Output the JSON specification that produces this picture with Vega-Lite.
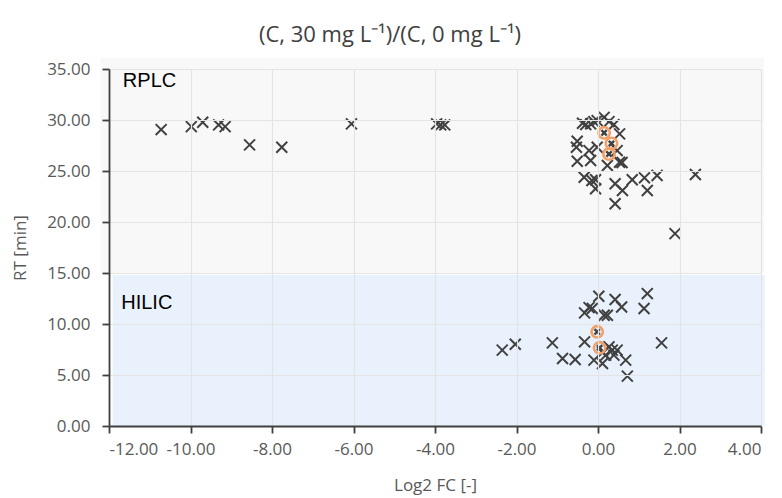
{
  "$schema": "https://vega.github.io/schema/vega-lite/v6.json",
  "width": 652,
  "height": 357,
  "autosize": {"type": "none"},
  "padding": {"left": 109, "top": 69, "right": 21, "bottom": 72},
  "background": "white",
  "config": {"view": {"stroke": null}},
  "title": {
    "text": "(C, 30 mg L⁻¹)/(C, 0 mg L⁻¹)",
    "font": "Open Sans",
    "fontSize": 22,
    "fontWeight": "normal",
    "color": "#404040",
    "anchor": "middle",
    "dx": -45,
    "offset": 11
  },
  "datasets": {
    "bands": [
      {"region": "RPLC", "x1": -12.21, "x2": 4.07, "y1": 15.0, "y2": 36.1},
      {"region": "HILIC", "x1": -11.91, "x2": 4.09, "y1": 0, "y2": 14.8}
    ],
    "labels": [
      {"label": "RPLC", "x": -11.66, "y": 33.8},
      {"label": "HILIC", "x": -11.7, "y": 12.1}
    ],
    "points": [
      {"fc": -10.72, "rt": 29.06, "hl": false},
      {"fc": -9.98, "rt": 29.35, "hl": false},
      {"fc": -9.70, "rt": 29.78, "hl": false},
      {"fc": -9.31, "rt": 29.52, "hl": false},
      {"fc": -9.15, "rt": 29.35, "hl": false},
      {"fc": -8.55, "rt": 27.56, "hl": false},
      {"fc": -7.76, "rt": 27.33, "hl": false},
      {"fc": -6.05, "rt": 29.62, "hl": false},
      {"fc": -3.96, "rt": 29.62, "hl": false},
      {"fc": -3.86, "rt": 29.52, "hl": false},
      {"fc": -3.76, "rt": 29.52, "hl": false},
      {"fc": -0.38, "rt": 29.68, "hl": false},
      {"fc": -0.30, "rt": 29.55, "hl": false},
      {"fc": -0.18, "rt": 29.62, "hl": false},
      {"fc": -0.10, "rt": 29.84, "hl": false},
      {"fc": -0.02, "rt": 29.94, "hl": false},
      {"fc": 0.15, "rt": 30.26, "hl": false},
      {"fc": 0.27, "rt": 29.84, "hl": false},
      {"fc": 0.39, "rt": 29.55, "hl": false},
      {"fc": 0.53, "rt": 28.64, "hl": false},
      {"fc": -0.51, "rt": 27.92, "hl": false},
      {"fc": -0.53, "rt": 27.33, "hl": false},
      {"fc": -0.22, "rt": 27.0, "hl": false},
      {"fc": -0.02, "rt": 27.33, "hl": false},
      {"fc": 0.47, "rt": 27.0, "hl": false},
      {"fc": -0.51, "rt": 25.96, "hl": false},
      {"fc": -0.18, "rt": 26.03, "hl": false},
      {"fc": 0.23, "rt": 25.54, "hl": false},
      {"fc": 0.53, "rt": 25.86, "hl": false},
      {"fc": 0.59, "rt": 25.83, "hl": false},
      {"fc": -0.34, "rt": 24.39, "hl": false},
      {"fc": -0.06, "rt": 24.14, "hl": false},
      {"fc": -0.15, "rt": 24.07, "hl": false},
      {"fc": -0.06, "rt": 23.26, "hl": false},
      {"fc": 0.42, "rt": 23.75, "hl": false},
      {"fc": 0.60, "rt": 23.09, "hl": false},
      {"fc": 0.84, "rt": 24.14, "hl": false},
      {"fc": 1.14, "rt": 24.33, "hl": false},
      {"fc": 1.45, "rt": 24.56, "hl": false},
      {"fc": 1.21, "rt": 23.09, "hl": false},
      {"fc": 0.42, "rt": 21.79, "hl": false},
      {"fc": 2.39, "rt": 24.66, "hl": false},
      {"fc": 1.89, "rt": 18.86, "hl": false},
      {"fc": 0.15, "rt": 28.74, "hl": true},
      {"fc": 0.33, "rt": 27.70, "hl": true},
      {"fc": 0.27, "rt": 26.66, "hl": true},
      {"fc": -2.35, "rt": 7.44, "hl": false},
      {"fc": -2.03, "rt": 8.02, "hl": false},
      {"fc": -1.12, "rt": 8.15, "hl": false},
      {"fc": -0.87, "rt": 6.62, "hl": false},
      {"fc": -0.56, "rt": 6.52, "hl": false},
      {"fc": -0.33, "rt": 8.25, "hl": false},
      {"fc": -0.10, "rt": 6.46, "hl": false},
      {"fc": 0.11, "rt": 6.13, "hl": false},
      {"fc": 0.02, "rt": 12.72, "hl": false},
      {"fc": 0.42, "rt": 12.40, "hl": false},
      {"fc": 0.58, "rt": 11.67, "hl": false},
      {"fc": 1.21, "rt": 12.98, "hl": false},
      {"fc": 1.13, "rt": 11.52, "hl": false},
      {"fc": -0.33, "rt": 11.09, "hl": false},
      {"fc": -0.22, "rt": 11.61, "hl": false},
      {"fc": -0.14, "rt": 11.52, "hl": false},
      {"fc": 0.15, "rt": 10.86, "hl": false},
      {"fc": 0.23, "rt": 10.86, "hl": false},
      {"fc": 1.56, "rt": 8.15, "hl": false},
      {"fc": 0.72, "rt": 4.89, "hl": false},
      {"fc": 0.68, "rt": 6.46, "hl": false},
      {"fc": 0.19, "rt": 6.95, "hl": false},
      {"fc": 0.35, "rt": 7.44, "hl": false},
      {"fc": 0.47, "rt": 7.44, "hl": false},
      {"fc": 0.39, "rt": 6.95, "hl": false},
      {"fc": 0.27, "rt": 7.76, "hl": false},
      {"fc": 0.11, "rt": 7.20, "hl": false},
      {"fc": -0.02, "rt": 9.23, "hl": true},
      {"fc": 0.04, "rt": 7.66, "hl": true}
    ]
  },
  "layer": [
    {
      "data": {"name": "bands"},
      "mark": {"type": "rect", "clip": false},
      "encoding": {
        "x": {"field": "x1", "type": "quantitative", "scale": {"domain": [-12, 4], "nice": false, "zero": false},
          "axis": {
            "values": [-12, -10, -8, -6, -4, -2, 0, 2, 4],
            "format": ".2f",
            "labelExpr": "replace(datum.label, '\u2212', '-')",
            "title": "Log2 FC [-]",
            "zindex": 1,
            "grid": true,
            "gridColor": "#e4e4e4",
            "gridWidth": 1.2,
            "domainColor": "#404040",
            "domainWidth": 1.8,
            "tickColor": "#404040",
            "tickWidth": 1.8,
            "tickSize": 7,
            "labelFont": "Open Sans",
            "labelFontSize": 17,
            "labelColor": "#595959",
            "labelPadding": 8,
            "titleFont": "Open Sans",
            "titleFontSize": 17,
            "titleFontWeight": "normal",
            "titleColor": "#595959",
            "titlePadding": 20
          }},
        "x2": {"field": "x2"},
        "y": {"field": "y1", "type": "quantitative", "scale": {"domain": [0, 35], "nice": false},
          "axis": {
            "values": [0, 5, 10, 15, 20, 25, 30, 35],
            "format": ".2f",
            "title": "RT [min]",
            "zindex": 1,
            "grid": true,
            "gridColor": "#e4e4e4",
            "gridWidth": 1.2,
            "domainColor": "#404040",
            "domainWidth": 1.8,
            "tickColor": "#404040",
            "tickWidth": 1.8,
            "tickSize": 7,
            "labelFont": "Open Sans",
            "labelFontSize": 17,
            "labelColor": "#595959",
            "labelPadding": 12,
            "titleFont": "Open Sans",
            "titleFontSize": 17,
            "titleFontWeight": "normal",
            "titleColor": "#595959",
            "titlePadding": 17
          }},
        "y2": {"field": "y2"},
        "color": {"field": "region", "type": "nominal", "scale": {"domain": ["RPLC", "HILIC"], "range": ["#f8f8f8", "#e8f1fc"]}, "legend": null}
      }
    },
    {
      "data": {"name": "labels"},
      "mark": {"type": "text", "align": "left", "baseline": "middle", "font": "Liberation Sans", "fontSize": 20, "color": "#000000"},
      "encoding": {
        "x": {"field": "x", "type": "quantitative"},
        "y": {"field": "y", "type": "quantitative"},
        "text": {"field": "label"}
      }
    },
    {
      "data": {"name": "points"},
      "transform": [{"filter": "!datum.hl"}],
      "mark": {"type": "point", "shape": "M-1,-1L1,1M-1,1L1,-1", "filled": false, "size": 120, "stroke": "#404040", "strokeWidth": 2, "opacity": 1},
      "encoding": {
        "x": {"field": "fc", "type": "quantitative"},
        "y": {"field": "rt", "type": "quantitative"}
      }
    },
    {
      "data": {"name": "points"},
      "transform": [{"filter": "datum.hl"}],
      "mark": {"type": "point", "shape": "circle", "filled": false, "size": 130, "stroke": "#f2a068", "strokeWidth": 2.6, "opacity": 1},
      "encoding": {
        "x": {"field": "fc", "type": "quantitative"},
        "y": {"field": "rt", "type": "quantitative"}
      }
    },
    {
      "data": {"name": "points"},
      "transform": [{"filter": "datum.hl"}],
      "mark": {"type": "point", "shape": "M-1,-1L1,1M-1,1L1,-1", "filled": false, "size": 28, "stroke": "#404040", "strokeWidth": 2.4, "opacity": 1},
      "encoding": {
        "x": {"field": "fc", "type": "quantitative"},
        "y": {"field": "rt", "type": "quantitative"}
      }
    }
  ]
}
